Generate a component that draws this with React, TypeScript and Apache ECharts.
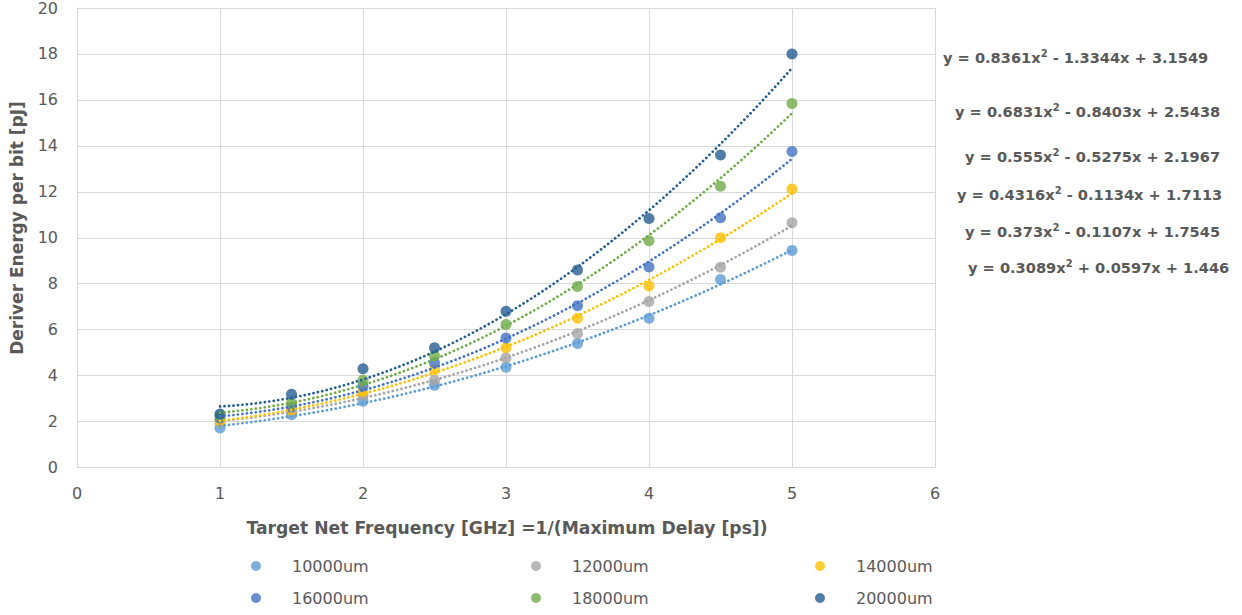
import React, { useEffect, useRef } from "react";
import * as echarts from "echarts";

// Wire lengths (legend / series names)
const seriesNames = ["10000um", "12000um", "14000um", "16000um", "18000um", "20000um"];
const seriesColors = ["#5B9BD5", "#A5A5A5", "#FFC000", "#4472C4", "#70AD47", "#255E91"];

// Target net frequency [GHz]
const freqs = [1, 1.5, 2, 2.5, 3, 3.5, 4, 4.5, 5];

// Driver energy per bit [pJ] for each wire length
const e10000 = [1.72, 2.3, 2.88, 3.58, 4.36, 5.4, 6.5, 8.18, 9.45];
const e12000 = [1.95, 2.42, 3.15, 3.8, 4.77, 5.83, 7.23, 8.72, 10.65];
const e14000 = [2.03, 2.5, 3.3, 4.25, 5.21, 6.5, 7.9, 10.0, 12.12];
const e16000 = [2.15, 2.62, 3.55, 4.56, 5.64, 7.04, 8.73, 10.87, 13.75];
const e18000 = [2.25, 2.8, 3.8, 4.85, 6.22, 7.88, 9.87, 12.24, 15.84];
const e20000 = [2.33, 3.19, 4.3, 5.21, 6.8, 8.6, 10.84, 13.6, 18.0];
const energies = [e10000, e12000, e14000, e16000, e18000, e20000];

// Quadratic trendline coefficients [a, b, c] for y = a*x^2 + b*x + c
const fit10000 = [0.3089, 0.0597, 1.446];
const fit12000 = [0.373, -0.1107, 1.7545];
const fit14000 = [0.4316, -0.1134, 1.7113];
const fit16000 = [0.555, -0.5275, 2.1967];
const fit18000 = [0.6831, -0.8403, 2.5438];
const fit20000 = [0.8361, -1.3344, 3.1549];
const fits = [fit10000, fit12000, fit14000, fit16000, fit18000, fit20000];

// Axis ticks
const xTicks = { min: 0, max: 6, interval: 1 };
const yTicks = { min: 0, max: 20, interval: 2 };

const TEXT = "#595959";
const FONT = "DejaVu Sans";

// Where each equation label sits (left x, centre y), from the top one down (20000um first)
const eqPos = [
  [943, 57],
  [955, 111],
  [965, 156],
  [957, 194],
  [965, 231],
  [968, 267],
];

// Legend cells: icon centre x, row centre y
const legendPos = [
  [256, 566],
  [536, 566],
  [820, 566],
  [256, 598],
  [536, 598],
  [820, 598],
];

function trend(fit: number[]) {
  const [a, b, c] = fit;
  const pts: number[][] = [];
  const x0 = freqs[0];
  const x1 = freqs[freqs.length - 1];
  const steps = 80;
  for (let i = 0; i <= steps; i++) {
    const x = x0 + ((x1 - x0) * i) / steps;
    pts.push([x, a * x * x + b * x + c]);
  }
  return pts;
}

function equationText(fit: number[]) {
  const [a, b, c] = fit;
  const sb = b < 0 ? "-" : "+";
  const sc = c < 0 ? "-" : "+";
  return `{b|y = ${a}x}{s|2}{b| ${sb} ${Math.abs(b)}x ${sc} ${Math.abs(c)}}`;
}

export default function App() {
  const ref = useRef<HTMLDivElement>(null);

  useEffect(() => {
    if (!ref.current) return;
    const chart = echarts.init(ref.current, undefined, { renderer: "svg" });

    const trendSeries = fits.map((f, i) => ({
      name: seriesNames[i] + " trend",
      type: "line",
      data: trend(f),
      showSymbol: false,
      symbol: "none",
      silent: true,
      z: 3,
      lineStyle: {
        color: seriesColors[i],
        width: 2.7,
        type: [0.1, 4.4],
        cap: "round",
      },
    }));

    const pointSeries = energies.map((vals, i) => ({
      name: seriesNames[i],
      type: "scatter",
      data: vals.map((v, j) => [freqs[j], v]),
      symbol: "circle",
      symbolSize: 11,
      z: 2,
      itemStyle: { color: seriesColors[i] },
    }));

    const legends = seriesNames.map((n, i) => ({
      data: [n],
      left: legendPos[i][0] - 5,
      top: legendPos[i][1] - 9,
      itemWidth: 10,
      itemHeight: 10,
      icon: "circle",
      padding: 0,
      textStyle: {
        color: TEXT,
        fontFamily: FONT,
        fontSize: 16,
        lineHeight: 18,
        padding: [0, 0, 0, 26],
      },
    }));

    // equation labels ordered from the steepest fit at the top
    const eqGraphics = fits
      .slice()
      .reverse()
      .map((f, k) => ({
        type: "text",
        left: eqPos[k][0],
        top: eqPos[k][1] - 9,
        style: {
          text: equationText(f),
          rich: {
            b: {
              fontFamily: FONT,
              fontWeight: "bold",
              fontSize: 14.6,
              lineHeight: 18,
              fill: TEXT,
              color: TEXT,
            },
            s: {
              fontFamily: FONT,
              fontWeight: "bold",
              fontSize: 10,
              lineHeight: 10,
              verticalAlign: "top",
              fill: TEXT,
              color: TEXT,
            },
          },
        },
      }));

    chart.setOption({
      animation: false,
      backgroundColor: "#ffffff",
      grid: { left: 77, right: 307, top: 5, bottom: 147.5, containLabel: false },
      xAxis: {
        type: "value",
        min: xTicks.min,
        max: xTicks.max,
        interval: xTicks.interval,
        axisLine: { show: true, lineStyle: { color: "#d9d9d9", width: 1 } },
        axisTick: { show: false },
        axisLabel: { color: TEXT, fontFamily: FONT, fontSize: 16, margin: 18 },
        splitLine: { show: true, lineStyle: { color: "#d9d9d9", width: 1 } },
      },
      yAxis: {
        type: "value",
        min: yTicks.min,
        max: yTicks.max,
        interval: yTicks.interval,
        axisLine: { show: true, lineStyle: { color: "#d9d9d9", width: 1 } },
        axisTick: { show: false },
        axisLabel: { color: TEXT, fontFamily: FONT, fontSize: 16, margin: 19 },
        splitLine: { show: true, lineStyle: { color: "#d9d9d9", width: 1 } },
      },
      legend: legends,
      graphic: [
        {
          type: "text",
          x: 507,
          y: 528,
          style: {
            text: "Target Net Frequency [GHz] =1/(Maximum Delay [ps])",
            fill: TEXT,
            fontFamily: FONT,
            fontWeight: "bold",
            fontSize: 17.2,
            align: "center",
            verticalAlign: "middle",
          },
        },
        {
          type: "text",
          x: 17,
          y: 228,
          rotation: Math.PI / 2,
          style: {
            text: "Deriver Energy per bit [pJ]",
            fill: TEXT,
            fontFamily: FONT,
            fontWeight: "bold",
            fontSize: 17,
            align: "center",
            verticalAlign: "middle",
          },
        },
        ...eqGraphics,
      ],
      series: [...pointSeries, ...trendSeries],
    });

    return () => chart.dispose();
  }, []);

  return (
    <div
      ref={ref}
      style={{ position: "fixed", left: 0, top: 0, width: 1242, height: 615, background: "#fff" }}
    />
  );
}
